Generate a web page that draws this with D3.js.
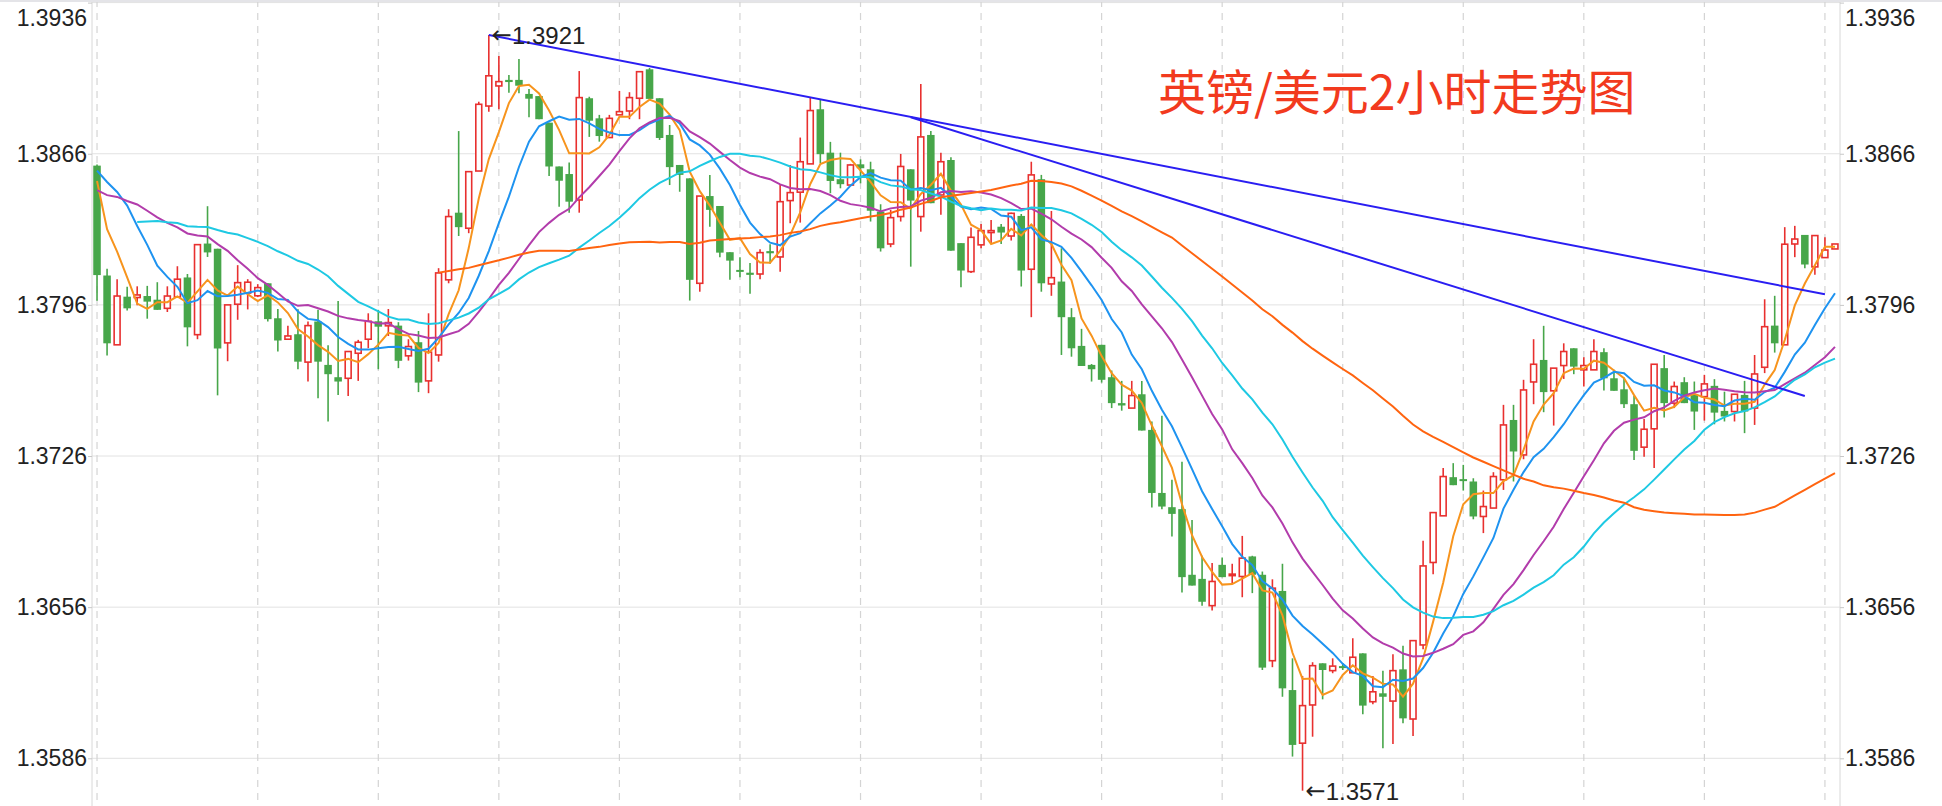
<!DOCTYPE html>
<html><head><meta charset="utf-8">
<script src="https://cdn.jsdelivr.net/npm/d3@7"></script>
<style>html,body{margin:0;padding:0;background:#fff;} svg{display:block}</style>
</head><body><svg id="c" width="1942" height="806"></svg>
<script>
const title = "英镑/美元2小时走势图";
const yTicks = [1.3586, 1.3656, 1.3726, 1.3796, 1.3866, 1.3936];
const dayTicks = [0,16,28,40,52,64,76,88,100,112,124,136,148,160,172];
// closes of the 25 earlier candles (not drawn) that feed the moving averages
const priorCloses = [1.37890,1.37881,1.38177,1.38177,1.38298,1.38330,1.38238,1.38168,1.38325,1.38325,
  1.38557,1.38557,1.38501,1.38501,1.38418,1.38418,1.38307,1.38464,1.38575,1.38946,1.38853,1.38900,1.38520,1.38539,1.38613];
// [open, high, low, close]
const ohlc = [
[1.38605,1.38610,1.37979,1.38098],[1.38096,1.38127,1.37725,1.37782],[1.37775,1.38079,1.37775,1.38001],[1.37998,1.38044,1.37934,1.37944],
[1.37994,1.38046,1.37958,1.38006],[1.38001,1.38048,1.37896,1.37975],[1.37984,1.38065,1.37937,1.37937],[1.37944,1.38046,1.37927,1.38001],
[1.37996,1.38139,1.37996,1.38079],[1.38087,1.38103,1.37768,1.37856],[1.37822,1.38239,1.37801,1.38239],[1.38244,1.38417,1.38182,1.38203],
[1.38220,1.38220,1.37541,1.37758],[1.37784,1.37960,1.37699,1.37960],[1.37963,1.38144,1.37891,1.38063],[1.38015,1.38079,1.37939,1.38065],
[1.38002,1.38056,1.37996,1.38040],[1.38060,1.38060,1.37883,1.37894],[1.37898,1.37941,1.37744,1.37795],[1.37801,1.37863,1.37801,1.37816],
[1.37824,1.37940,1.37662,1.37697],[1.37695,1.37883,1.37605,1.37864],[1.37883,1.37937,1.37528,1.37697],[1.37682,1.37773,1.37420,1.37639],
[1.37625,1.37978,1.37543,1.37605],[1.37620,1.37744,1.37538,1.37744],[1.37736,1.37798,1.37608,1.37787],[1.37801,1.37921,1.37759,1.37884],
[1.37884,1.37937,1.37662,1.37859],[1.37863,1.37941,1.37816,1.37878],[1.37864,1.37880,1.37667,1.37701],[1.37724,1.37801,1.37702,1.37767],
[1.37787,1.37839,1.37556,1.37600],[1.37608,1.37921,1.37551,1.37741],[1.37728,1.38130,1.37697,1.38108],[1.38076,1.38403,1.38060,1.38369],
[1.38387,1.38765,1.38279,1.38320],[1.38315,1.38577,1.38292,1.38577],[1.38580,1.38901,1.38580,1.38889],[1.38881,1.39210,1.38855,1.39021],
[1.38974,1.39113,1.38866,1.38994],[1.39002,1.39025,1.38943,1.38992],[1.39002,1.39099,1.38940,1.38975],[1.38937,1.38960,1.38829,1.38915],
[1.38927,1.38927,1.38820,1.38820],[1.38804,1.38804,1.38557,1.38601],[1.38601,1.38601,1.38415,1.38535],[1.38566,1.38619,1.38387,1.38438],
[1.38446,1.39043,1.38387,1.38920],[1.38917,1.38924,1.38738,1.38813],[1.38824,1.38840,1.38716,1.38742],[1.38735,1.38840,1.38735,1.38824],
[1.38840,1.38951,1.38840,1.38855],[1.38858,1.38945,1.38820,1.38920],[1.38917,1.39040,1.38820,1.39040],[1.39051,1.39057,1.38914,1.38914],
[1.38917,1.38917,1.38724,1.38733],[1.38747,1.38793,1.38515,1.38598],[1.38608,1.38608,1.38484,1.38562],[1.38546,1.38546,1.37980,1.38076],
[1.38060,1.38464,1.38021,1.38464],[1.38464,1.38562,1.38322,1.38400],[1.38418,1.38418,1.38181,1.38202],[1.38204,1.38204,1.38076,1.38165],
[1.38122,1.38181,1.38088,1.38113],[1.38109,1.38154,1.38011,1.38099],[1.38103,1.38218,1.38079,1.38202],[1.38209,1.38241,1.38150,1.38199],
[1.38182,1.38515,1.38114,1.38438],[1.38443,1.38608,1.38338,1.38480],[1.38482,1.38735,1.38341,1.38623],[1.38613,1.38921,1.38613,1.38860],
[1.38866,1.38912,1.38616,1.38658],[1.38665,1.38715,1.38477,1.38534],[1.38542,1.38665,1.38500,1.38519],[1.38515,1.38613,1.38515,1.38608],
[1.38611,1.38634,1.38523,1.38593],[1.38588,1.38623,1.38346,1.38396],[1.38392,1.38426,1.38207,1.38222],[1.38242,1.38400,1.38227,1.38364],
[1.38369,1.38659,1.38346,1.38601],[1.38588,1.38588,1.38137,1.38443],[1.38369,1.38983,1.38299,1.38738],[1.38747,1.38765,1.38431,1.38431],
[1.38469,1.38665,1.38377,1.38623],[1.38631,1.38644,1.38211,1.38211],[1.38246,1.38246,1.38042,1.38119],[1.38114,1.38318,1.38108,1.38273],
[1.38238,1.38335,1.38222,1.38304],[1.38295,1.38353,1.38246,1.38304],[1.38322,1.38335,1.38242,1.38295],[1.38279,1.38387,1.38258,1.38384],
[1.38372,1.38381,1.38045,1.38119],[1.38125,1.38623,1.37903,1.38562],[1.38542,1.38562,1.38021,1.38060],[1.38057,1.38395,1.38002,1.38086],
[1.38068,1.38222,1.37728,1.37903],[1.37903,1.37945,1.37720,1.37759],[1.37770,1.37849,1.37677,1.37677],[1.37682,1.37686,1.37605,1.37662],
[1.37775,1.37775,1.37600,1.37613],[1.37625,1.37656,1.37482,1.37505],[1.37505,1.37608,1.37470,1.37494],[1.37482,1.37608,1.37482,1.37540],
[1.37546,1.37608,1.37378,1.37378],[1.37381,1.37420,1.37021,1.37089],[1.37089,1.37446,1.37014,1.37026],[1.37023,1.37150,1.36887,1.36992],
[1.37014,1.37234,1.36628,1.36699],[1.36710,1.36964,1.36660,1.36660],[1.36691,1.36798,1.36567,1.36585],[1.36567,1.36764,1.36544,1.36679],
[1.36756,1.36790,1.36699,1.36699],[1.36706,1.36761,1.36667,1.36713],[1.36702,1.36890,1.36606,1.36787],[1.36795,1.36798,1.36625,1.36710],
[1.36710,1.36725,1.36269,1.36280],[1.36312,1.36689,1.36282,1.36648],[1.36635,1.36761,1.36145,1.36184],[1.36176,1.36323,1.35868,1.35922],
[1.35930,1.36241,1.35710,1.36104],[1.36107,1.36305,1.35960,1.36289],[1.36300,1.36300,1.36133,1.36269],[1.36266,1.36323,1.36254,1.36287],
[1.36287,1.36301,1.36269,1.36280],[1.36256,1.36416,1.36256,1.36328],[1.36346,1.36346,1.36064,1.36104],[1.36122,1.36241,1.36110,1.36168],
[1.36161,1.36266,1.35906,1.36145],[1.36125,1.36342,1.35926,1.36266],[1.36272,1.36381,1.36022,1.36045],[1.36042,1.36405,1.35963,1.36405],
[1.36385,1.36867,1.36365,1.36751],[1.36767,1.36998,1.36713,1.36998],[1.36983,1.37204,1.36983,1.37165],[1.37162,1.37227,1.37125,1.37125],
[1.37153,1.37219,1.37100,1.37145],[1.37142,1.37157,1.36967,1.36980],[1.36980,1.37100,1.36903,1.37026],[1.37019,1.37185,1.37019,1.37165],
[1.37150,1.37497,1.37103,1.37404],[1.37427,1.37497,1.37142,1.37281],[1.37265,1.37613,1.37245,1.37566],[1.37603,1.37801,1.37500,1.37685],
[1.37705,1.37863,1.37463,1.37556],[1.37562,1.37667,1.37401,1.37667],[1.37679,1.37782,1.37617,1.37744],[1.37759,1.37759,1.37639,1.37674],
[1.37659,1.37718,1.37582,1.37679],[1.37659,1.37801,1.37659,1.37744],[1.37741,1.37759,1.37563,1.37620],[1.37620,1.37659,1.37562,1.37562],
[1.37569,1.37623,1.37482,1.37500],[1.37500,1.37538,1.37242,1.37284],[1.37301,1.37431,1.37257,1.37384],[1.37386,1.37685,1.37204,1.37685],
[1.37667,1.37728,1.37438,1.37505],[1.37505,1.37605,1.37482,1.37582],[1.37602,1.37625,1.37505,1.37505],[1.37546,1.37605,1.37381,1.37466],
[1.37535,1.37636,1.37424,1.37594],[1.37585,1.37616,1.37407,1.37461],[1.37469,1.37558,1.37420,1.37443],[1.37466,1.37546,1.37420,1.37546],
[1.37543,1.37608,1.37366,1.37466],[1.37482,1.37728,1.37404,1.37640],[1.37671,1.37986,1.37644,1.37859],[1.37864,1.38002,1.37739,1.37782],
[1.37775,1.38320,1.37775,1.38241],[1.38242,1.38326,1.38181,1.38265],[1.38284,1.38284,1.38130,1.38147],[1.38136,1.38281,1.38099,1.38281],
[1.38179,1.38273,1.38179,1.38214],[1.38219,1.38242,1.38219,1.38242]
];
const maPeriods = [5, 10, 20, 30, 60];
const maColors = ["#f7941d", "#1e93f0", "#b23cab", "#1ec9e3", "#ff6410"];
// trend lines: [startIndex, startPrice, endIndex, endPrice]
const trendLines = [[39, 1.39210, 172, 1.38009], [81, 1.38829, 170, 1.37538]];
const highMark = {index: 39, price: 1.3921, label: "1.3921"};
const lowMark = {index: 120, price: 1.3571, label: "1.3571"};

const W = 1942, H = 806, L = 92, R = 1840;
const svg = d3.select("#c");
const n = ohlc.length;
const x = d3.scaleBand().domain(d3.range(n)).range([L, R]).paddingInner(0.25).paddingOuter(0.125);
const cx = i => x(i) + x.bandwidth() / 2;
const y = d3.scaleLinear().domain([1.3586, 1.3936]).range([758.3, 2.6]);

// grid
svg.append("g").selectAll("line").data(yTicks).join("line")
  .attr("x1", L).attr("x2", R).attr("y1", d => y(d)).attr("y2", d => y(d))
  .attr("stroke", "#e2e2e2").attr("stroke-width", 1);
svg.append("g").selectAll("line").data(dayTicks).join("line")
  .attr("x1", d => cx(d)).attr("x2", d => cx(d)).attr("y1", 0).attr("y2", H)
  .attr("stroke", "#d4d4d4").attr("stroke-width", 1.2).attr("stroke-dasharray", "7,6");
svg.append("line").attr("x1", L).attr("x2", L).attr("y1", 0).attr("y2", H).attr("stroke", "#d8d8d8");
svg.append("line").attr("x1", R).attr("x2", R).attr("y1", 0).attr("y2", H).attr("stroke", "#d8d8d8");
svg.append("line").attr("x1", 0).attr("x2", W).attr("y1", 1).attr("y2", 1).attr("stroke", "#e4e4e8").attr("stroke-width", 2);

// axes labels
const axL = d3.axisLeft(y).tickValues(yTicks).tickSize(4).tickFormat(d3.format(".4f"));
const axR = d3.axisRight(y).tickValues(yTicks).tickSize(4).tickFormat(d3.format(".4f"));
const gl = svg.append("g").attr("transform", `translate(${L},0)`).call(axL);
const gr = svg.append("g").attr("transform", `translate(${R},0)`).call(axR);
[gl, gr].forEach(g => {
  g.select(".domain").remove();
  g.selectAll(".tick line").attr("stroke", "#c8c8c8");
  g.selectAll(".tick text").attr("font-family", "Liberation Sans, Arial, sans-serif")
    .attr("font-size", 23).attr("fill", "#222");
  g.selectAll(".tick").filter(d => y(d) < 18).select("text").attr("y", 18 - y(1.3936));
});
gl.selectAll(".tick text").attr("x", -5);
gr.selectAll(".tick text").attr("x", 5);

// candles
const red = "#e8302f", green = "#47a64a";
const cg = svg.append("g");
ohlc.forEach((d, i) => {
  const [o, h, l, c] = d;
  const up = c >= o;
  const xc = cx(i);
  const top = y(Math.max(o, c)), bot = y(Math.min(o, c));
  const col = up ? red : green;
  if (up) {
    cg.append("line").attr("x1", xc).attr("x2", xc).attr("y1", y(h)).attr("y2", top).attr("stroke", col).attr("stroke-width", 1.6);
    cg.append("line").attr("x1", xc).attr("x2", xc).attr("y1", bot).attr("y2", y(l)).attr("stroke", col).attr("stroke-width", 1.6);
    cg.append("rect").attr("x", x(i) + 0.8).attr("width", x.bandwidth() - 1.6)
      .attr("y", top).attr("height", Math.max(bot - top, 1.5))
      .attr("fill", "#fff").attr("stroke", col).attr("stroke-width", 1.6);
  } else {
    cg.append("line").attr("x1", xc).attr("x2", xc).attr("y1", y(h)).attr("y2", y(l)).attr("stroke", col).attr("stroke-width", 1.6);
    cg.append("rect").attr("x", x(i)).attr("width", x.bandwidth())
      .attr("y", top).attr("height", Math.max(bot - top, 2)).attr("fill", col);
  }
});

// moving averages
const allCloses = priorCloses.concat(ohlc.map(d => d[3]));
const off = priorCloses.length;
maPeriods.forEach((p, k) => {
  const pts = [];
  for (let i = 0; i < n; i++) {
    const j = i + off;
    if (j >= p - 1) pts.push([i, d3.mean(allCloses.slice(j - p + 1, j + 1))]);
  }
  svg.append("path").datum(pts)
    .attr("d", d3.line().x(d => cx(d[0])).y(d => y(d[1])))
    .attr("fill", "none").attr("stroke", maColors[k]).attr("stroke-width", 2);
});

// trend lines
svg.append("g").selectAll("line").data(trendLines).join("line")
  .attr("x1", d => cx(d[0])).attr("y1", d => y(d[1]))
  .attr("x2", d => cx(d[2])).attr("y2", d => y(d[3]))
  .attr("stroke", "#2a1ef2").attr("stroke-width", 2);

// marks
[highMark, lowMark].forEach(m => {
  const t = svg.append("text").attr("x", cx(m.index) + 3).attr("y", y(m.price))
    .attr("dominant-baseline", "central").attr("font-size", 24).attr("fill", "#222");
  t.append("tspan").attr("font-family", "DejaVu Sans, sans-serif").text("←");
  t.append("tspan").attr("font-family", "Liberation Sans, Arial, sans-serif").text(m.label);
});

svg.append("text").attr("x", 1158).attr("y", 89).attr("dominant-baseline", "central")
  .attr("font-family", "Noto Sans CJK SC, sans-serif").attr("font-size", 48).attr("fill", "#f23a1e")
  .text(title);
</script>
</body></html>
